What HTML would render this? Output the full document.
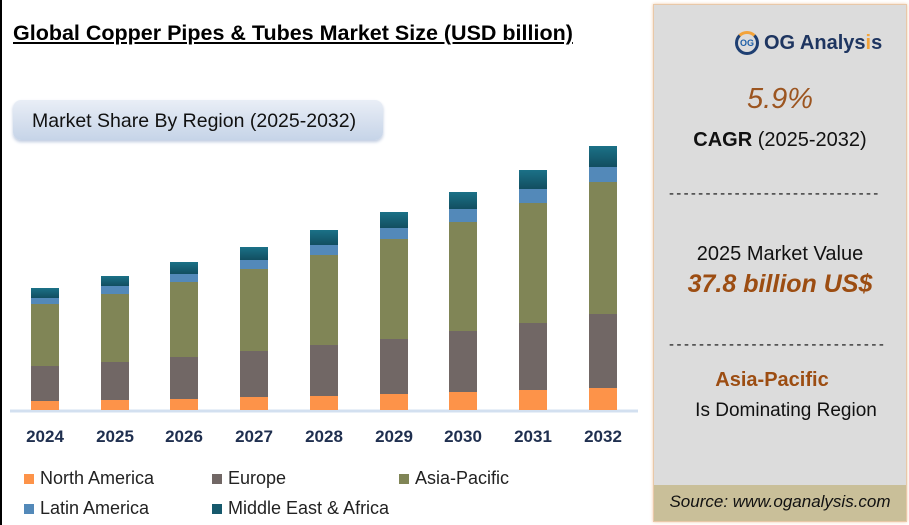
<!DOCTYPE html>
<html><head><meta charset="utf-8"><style>
body{margin:0;width:909px;height:525px;background:#fff;font-family:"Liberation Sans",sans-serif;position:relative;overflow:hidden}
.abs{position:absolute}
.title{left:13px;top:21px;font-size:21.5px;font-weight:bold;text-decoration:underline;color:#000}
.pill{left:13px;top:100px;width:370px;height:40px;border-radius:8px;background:linear-gradient(#e9eef6,#c6d4e8);box-shadow:0 2px 3px #bfcbe0}
.pill span{position:absolute;left:19px;top:10px;font-size:19.5px;color:#111}
.yr{top:427px;font-size:17px;font-weight:bold;color:#1f2f4f;width:60px;text-align:center}
.leg{font-size:18px;color:#222}
.sw{width:10px;height:10px;display:inline-block;margin-right:6px}
.panel{left:653px;top:4px;width:252px;height:516px;background:#dcdcdc;border:1px solid #e8c8a8;box-shadow:0 0 3px #f2c9a5}
.c{position:absolute;width:100%;text-align:center}
.dash{font-size:15px;letter-spacing:2.3px;color:#111}
</style></head><body>
<div class="abs" style="left:0;top:0;width:2px;height:525px;background:#000"></div>
<div class="abs title">Global Copper Pipes &amp; Tubes Market Size (USD billion)</div>
<div class="abs pill"><span>Market Share By Region (2025-2032)</span></div>
<svg class="abs" style="left:0;top:0" width="650" height="525">
<defs><linearGradient id="g" x1="0" y1="0" x2="0" y2="1"><stop offset="0" stop-color="#1b7187"/><stop offset="1" stop-color="#124e60"/></linearGradient></defs>
<line x1="10" y1="411" x2="638" y2="411" stroke="#d3e0f0" stroke-width="3"/>
<g>
<rect x="31" y="288" width="28" height="10" fill="url(#g)"/><rect x="31" y="298" width="28" height="6" fill="#5389b9"/><rect x="31" y="304" width="28" height="62" fill="#808556"/><rect x="31" y="366" width="28" height="35" fill="#716765"/><rect x="31" y="401" width="28" height="9" fill="#fd9349"/>
<rect x="101" y="276" width="28" height="10" fill="url(#g)"/><rect x="101" y="286" width="28" height="8" fill="#5389b9"/><rect x="101" y="294" width="28" height="68" fill="#808556"/><rect x="101" y="362" width="28" height="38" fill="#716765"/><rect x="101" y="400" width="28" height="10" fill="#fd9349"/>
<rect x="170" y="262" width="28" height="12" fill="url(#g)"/><rect x="170" y="274" width="28" height="8" fill="#5389b9"/><rect x="170" y="282" width="28" height="75" fill="#808556"/><rect x="170" y="357" width="28" height="42" fill="#716765"/><rect x="170" y="399" width="28" height="11" fill="#fd9349"/>
<rect x="240" y="247" width="28" height="13" fill="url(#g)"/><rect x="240" y="260" width="28" height="9" fill="#5389b9"/><rect x="240" y="269" width="28" height="82" fill="#808556"/><rect x="240" y="351" width="28" height="46" fill="#716765"/><rect x="240" y="397" width="28" height="13" fill="#fd9349"/>
<rect x="310" y="230" width="28" height="15" fill="url(#g)"/><rect x="310" y="245" width="28" height="10" fill="#5389b9"/><rect x="310" y="255" width="28" height="90" fill="#808556"/><rect x="310" y="345" width="28" height="51" fill="#716765"/><rect x="310" y="396" width="28" height="14" fill="#fd9349"/>
<rect x="380" y="212" width="28" height="16" fill="url(#g)"/><rect x="380" y="228" width="28" height="11" fill="#5389b9"/><rect x="380" y="239" width="28" height="100" fill="#808556"/><rect x="380" y="339" width="28" height="55" fill="#716765"/><rect x="380" y="394" width="28" height="16" fill="#fd9349"/>
<rect x="449" y="192" width="28" height="17" fill="url(#g)"/><rect x="449" y="209" width="28" height="13" fill="#5389b9"/><rect x="449" y="222" width="28" height="109" fill="#808556"/><rect x="449" y="331" width="28" height="61" fill="#716765"/><rect x="449" y="392" width="28" height="18" fill="#fd9349"/>
<rect x="519" y="170" width="28" height="19" fill="url(#g)"/><rect x="519" y="189" width="28" height="14" fill="#5389b9"/><rect x="519" y="203" width="28" height="120" fill="#808556"/><rect x="519" y="323" width="28" height="67" fill="#716765"/><rect x="519" y="390" width="28" height="20" fill="#fd9349"/>
<rect x="589" y="146" width="28" height="21" fill="url(#g)"/><rect x="589" y="167" width="28" height="15" fill="#5389b9"/><rect x="589" y="182" width="28" height="132" fill="#808556"/><rect x="589" y="314" width="28" height="74" fill="#716765"/><rect x="589" y="388" width="28" height="22" fill="#fd9349"/>
</g>
</svg>
<div class="abs yr" style="left:15px">2024</div><div class="abs yr" style="left:85px">2025</div><div class="abs yr" style="left:154px">2026</div><div class="abs yr" style="left:224px">2027</div><div class="abs yr" style="left:294px">2028</div><div class="abs yr" style="left:364px">2029</div><div class="abs yr" style="left:433px">2030</div><div class="abs yr" style="left:503px">2031</div><div class="abs yr" style="left:573px">2032</div>
<div class="abs leg" style="left:24px;top:468px"><span class="sw" style="background:#fd9349"></span>North America</div>
<div class="abs leg" style="left:212px;top:468px"><span class="sw" style="background:#716765"></span>Europe</div>
<div class="abs leg" style="left:399px;top:468px"><span class="sw" style="background:#808556"></span>Asia-Pacific</div>
<div class="abs leg" style="left:24px;top:498px"><span class="sw" style="background:#5389b9"></span>Latin America</div>
<div class="abs leg" style="left:212px;top:498px"><span class="sw" style="background:#16596c"></span>Middle East &amp; Africa</div>
<div class="abs panel">
 <div class="abs" style="left:81px;top:26px;width:24px;height:24px;border-radius:50%;border:3px solid #1e3f72;border-top-color:#f3a33a;box-sizing:border-box;font-size:9px;font-weight:bold;color:#1e5fa8;text-align:center;line-height:18px">OG</div>
 <div class="abs" style="left:110px;top:27px;font-size:20px;font-weight:bold;color:#1e3560">OG Analys<span style="color:#f3a33a">i</span>s</div>
 <div class="c" style="top:78px;font-size:29px;font-style:italic;color:#9c5520">5.9%</div>
 <div class="c" style="top:124px;font-size:20px;color:#111"><b>CAGR</b> (2025-2032)</div>
 <div class="abs dash" style="left:15px;top:180px">-----------------------------</div>
 <div class="c" style="top:238px;font-size:20px;color:#111">2025 Market Value</div>
 <div class="c" style="top:265px;font-size:25px;font-weight:bold;font-style:italic;color:#9c4d12">37.8 billion US$</div>
 <div class="abs dash" style="left:15px;top:331px;letter-spacing:2.5px">-----------------------------</div>
 <div class="c" style="top:364px;font-size:20px;font-weight:bold;color:#9c4d12;left:-8px">Asia-Pacific</div>
 <div class="c" style="top:395px;font-size:19px;color:#111;left:6px">Is Dominating Region</div>
 <div class="abs" style="left:0;top:480px;width:252px;height:36px;background:#c9bf99"></div>
 <div class="c" style="top:487px;font-size:17px;font-style:italic;color:#111">Source: www.oganalysis.com</div>
</div>
</body></html>
